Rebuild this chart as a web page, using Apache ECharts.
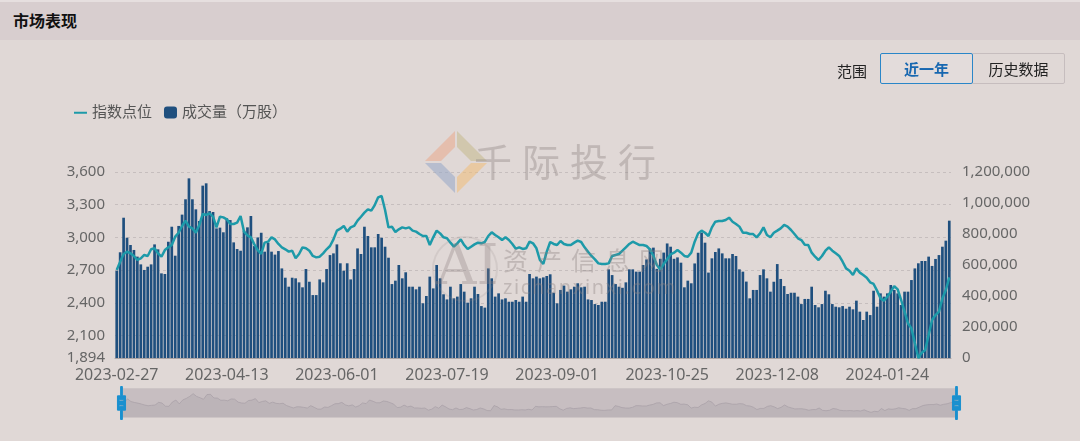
<!DOCTYPE html>
<html>
<head>
<meta charset="utf-8">
<script src="https://cdn.jsdelivr.net/npm/echarts@6/dist/echarts.min.js"></script>
<style>
  html,body{margin:0;padding:0;}
  body{width:1080px;height:441px;background:#e0d8d6;position:relative;overflow:hidden;font-family:"Noto Sans CJK SC","Noto Sans",sans-serif;}
  #hdr{position:absolute;left:0;top:0;width:1080px;height:40px;background:#d8cecf;border-top:2px solid #e6dfdf;box-sizing:border-box;}
  #ttl{position:absolute;left:13px;top:6px;font-size:16px;font-weight:bold;color:#111;}
  #chart{position:absolute;left:0;top:0;width:1080px;height:441px;}
  .lbl{position:absolute;font-size:15px;color:#222;}
  .btn{position:absolute;top:53px;height:31px;line-height:29px;text-align:center;font-size:15px;box-sizing:border-box;}
  #b1{left:880px;width:93px;border:1.5px solid #2a86c8;color:#1767b0;font-weight:bold;border-radius:2px;background:#e3dcdb;z-index:2;}
  #b2{left:972px;width:93px;border:1px solid #c6bdbe;color:#222;border-radius:0 2px 2px 0;}
  .wm{position:absolute;color:rgba(140,128,128,0.38);pointer-events:none;white-space:nowrap;z-index:5;}
</style>
</head>
<body>
<div id="hdr"><span id="ttl">市场表现</span></div>
<div id="chart"></div>
<span class="lbl" style="left:837px;top:60px;">范围</span>
<div class="btn" id="b1">近一年</div>
<div class="btn" id="b2">历史数据</div>
<svg class="wm" style="left:423px;top:129px;" width="68" height="68" viewBox="423 129 68 68">
  <polygon points="425,161 455,131 455,147 441,161" fill="rgba(233,170,140,0.55)"/>
  <polygon points="457,131 487,161 471,161 457,147" fill="rgba(196,186,140,0.55)"/>
  <polygon points="425,163 441,163 455,177 455,193" fill="rgba(150,168,200,0.55)"/>
  <polygon points="487,163 457,193 457,177 471,163" fill="rgba(240,190,120,0.55)"/>
</svg>
<div class="wm" style="left:474px;top:132px;font-size:38px;letter-spacing:10px;">千际投行</div>
<div class="wm" style="left:432px;top:236px;width:62px;height:62px;border:2px solid rgba(150,138,138,0.18);border-radius:50%;"></div>
<div class="wm" style="left:436px;top:232px;font-size:56px;font-family:'DejaVu Serif',serif;color:rgba(140,128,128,0.32);">AI</div>
<div class="wm" style="left:503px;top:241px;font-size:25px;letter-spacing:9px;">资产信息网</div>
<div class="wm" style="left:503px;top:273px;font-size:20px;letter-spacing:1.6px;font-family:'Noto Sans',sans-serif;">zichanxinxi.com</div>
<script>
var dates = [
'2023-02-27','2023-02-28',
'2023-03-01','2023-03-02','2023-03-03','2023-03-06','2023-03-07','2023-03-08','2023-03-09','2023-03-10','2023-03-13','2023-03-14','2023-03-15','2023-03-16','2023-03-17','2023-03-20','2023-03-21','2023-03-22','2023-03-23','2023-03-24','2023-03-27','2023-03-28','2023-03-29','2023-03-30','2023-03-31',
'2023-04-03','2023-04-04','2023-04-06','2023-04-07','2023-04-10','2023-04-11','2023-04-12','2023-04-13','2023-04-14','2023-04-17','2023-04-18','2023-04-19','2023-04-20','2023-04-21','2023-04-24','2023-04-25','2023-04-26','2023-04-27','2023-04-28',
'2023-05-04','2023-05-05','2023-05-08','2023-05-09','2023-05-10','2023-05-11','2023-05-12','2023-05-15','2023-05-16','2023-05-17','2023-05-18','2023-05-19','2023-05-22','2023-05-23','2023-05-24','2023-05-25','2023-05-26','2023-05-29','2023-05-30','2023-05-31',
'2023-06-01','2023-06-02','2023-06-05','2023-06-06','2023-06-07','2023-06-08','2023-06-09','2023-06-12','2023-06-13','2023-06-14','2023-06-15','2023-06-16','2023-06-19','2023-06-20','2023-06-21','2023-06-26','2023-06-27','2023-06-28','2023-06-29','2023-06-30',
'2023-07-03','2023-07-04','2023-07-05','2023-07-06','2023-07-07','2023-07-10','2023-07-11','2023-07-12','2023-07-13','2023-07-14','2023-07-17','2023-07-18','2023-07-19','2023-07-20','2023-07-21','2023-07-24','2023-07-25','2023-07-26','2023-07-27','2023-07-28','2023-07-31',
'2023-08-01','2023-08-02','2023-08-03','2023-08-04','2023-08-07','2023-08-08','2023-08-09','2023-08-10','2023-08-11','2023-08-14','2023-08-15','2023-08-16','2023-08-17','2023-08-18','2023-08-21','2023-08-22','2023-08-23','2023-08-24','2023-08-25','2023-08-28','2023-08-29','2023-08-30','2023-08-31',
'2023-09-01','2023-09-04','2023-09-05','2023-09-06','2023-09-07','2023-09-08','2023-09-11','2023-09-12','2023-09-13','2023-09-14','2023-09-15','2023-09-18','2023-09-19','2023-09-20','2023-09-21','2023-09-22','2023-09-25','2023-09-26','2023-09-27','2023-09-28',
'2023-10-09','2023-10-10','2023-10-11','2023-10-12','2023-10-13','2023-10-16','2023-10-17','2023-10-18','2023-10-19','2023-10-20','2023-10-23','2023-10-24','2023-10-25','2023-10-26','2023-10-27','2023-10-30','2023-10-31',
'2023-11-01','2023-11-02','2023-11-03','2023-11-06','2023-11-07','2023-11-08','2023-11-09','2023-11-10','2023-11-13','2023-11-14','2023-11-15','2023-11-16','2023-11-17','2023-11-20','2023-11-21','2023-11-22','2023-11-23','2023-11-24','2023-11-27','2023-11-28','2023-11-29','2023-11-30',
'2023-12-01','2023-12-04','2023-12-05','2023-12-06','2023-12-07','2023-12-08','2023-12-11','2023-12-12','2023-12-13','2023-12-14','2023-12-15','2023-12-18','2023-12-19','2023-12-20','2023-12-21','2023-12-22','2023-12-25','2023-12-26','2023-12-27','2023-12-28','2023-12-29',
'2024-01-02','2024-01-03','2024-01-04','2024-01-05','2024-01-08','2024-01-09','2024-01-10','2024-01-11','2024-01-12','2024-01-15','2024-01-16','2024-01-17','2024-01-18','2024-01-19','2024-01-22','2024-01-23','2024-01-24','2024-01-25','2024-01-26','2024-01-29','2024-01-30','2024-01-31',
'2024-02-01','2024-02-02','2024-02-05','2024-02-06','2024-02-07','2024-02-08','2024-02-19','2024-02-20','2024-02-21','2024-02-22','2024-02-23','2024-02-26','2024-02-27'
];

var volume = [
563000,682000,905000,776000,729000,697000,654000,604000,568000,589000,
604000,733000,701000,546000,542000,750000,847000,660000,852000,925000,
1024000,1159000,1024000,959000,884000,1112000,1127000,948000,942000,836000,
841000,811000,901000,890000,746000,703000,692000,821000,843000,916000,
722000,778000,808000,686000,744000,686000,667000,690000,578000,518000,
460000,518000,514000,488000,456000,574000,492000,406000,406000,507000,
488000,574000,664000,675000,733000,611000,563000,611000,507000,574000,
707000,671000,847000,787000,714000,714000,800000,776000,718000,647000,
477000,499000,600000,514000,553000,460000,460000,443000,460000,353000,
400000,525000,449000,600000,514000,411000,378000,460000,385000,396000,
477000,428000,357000,385000,460000,413000,335000,325000,578000,514000,
396000,417000,378000,385000,363000,363000,374000,363000,396000,363000,
542000,514000,525000,514000,520000,529000,540000,421000,353000,439000,
467000,428000,443000,460000,482000,456000,460000,378000,374000,348000,
342000,363000,363000,572000,535000,477000,460000,453000,488000,572000,
572000,557000,557000,600000,636000,707000,712000,575000,640000,680000,
739000,718000,640000,649000,615000,456000,499000,482000,610000,679000,
809000,744000,551000,643000,684000,707000,675000,643000,643000,671000,
658000,572000,557000,493000,385000,439000,439000,535000,572000,514000,
428000,492000,606000,510000,464000,413000,421000,421000,396000,348000,
381000,381000,460000,342000,327000,348000,434000,411000,348000,331000,
327000,335000,318000,331000,314000,370000,299000,245000,299000,277000,
434000,331000,417000,396000,417000,471000,439000,417000,342000,428000,
428000,503000,578000,611000,626000,626000,654000,594000,639000,664000,
718000,757000,886000
];

var indexPoints = [
2701,2777,2848,2869,2854,2830,2793,2808,2839,2830,
2891,2900,2854,2823,2884,2909,2930,3007,3043,3105,
3154,3099,3083,3043,3114,3215,3206,3221,3190,3092,
3190,3184,3166,3123,3123,3135,3196,3053,3019,3001,
2936,2884,2848,2952,2961,3001,2982,2940,2909,2891,
2870,2878,2808,2848,2909,2900,2878,2830,2817,2823,
2854,2891,2921,2982,3062,3080,3105,3053,3092,3105,
3154,3190,3227,3258,3245,3297,3368,3380,3251,3092,
3098,3050,3074,3092,3083,3092,3062,3053,3031,3013,
3013,2930,3001,3062,3037,3001,2992,2952,2915,2946,
2982,2930,2894,2915,2936,2952,2946,2958,3013,3047,
3022,3001,2976,3001,2976,2940,2897,2909,2894,2900,
2961,2946,2900,2793,2756,2869,2958,2940,2930,2967,
2940,2930,2930,2952,2970,2958,2909,2869,2830,2799,
2762,2756,2756,2762,2830,2839,2848,2878,2909,2940,
2961,2946,2930,2930,2921,2891,2830,2747,2707,2756,
2799,2845,2860,2884,2860,2830,2823,2860,2961,3037,
3062,3043,3013,3092,3144,3150,3150,3160,3181,3144,
3123,3099,3043,3043,3031,3031,3001,3037,3092,3022,
3001,3043,3062,3083,3114,3099,3068,3031,2992,2976,
2933,2930,2860,2823,2793,2830,2878,2909,2878,2854,
2830,2777,2716,2695,2655,2716,2677,2655,2631,2588,
2573,2512,2441,2420,2457,2502,2554,2524,2426,2319,
2212,2166,2029,1894,1943,1967,2105,2242,2288,2319,
2441,2518,2634
];

var leftAxisMin = 1894, leftAxisMax = 3600;
var rightAxisMin = 0, rightAxisMax = 1200000, rightAxisStep = 200000;
var seriesNames = ['指数点位', '成交量（万股）'];

var FONT = '"Noto Sans","Noto Sans CJK SC",sans-serif';
var LINE_ICON = 'path://M0,0H13V0.02H0Z M0,5.2H13V7.2H0Z M0,12H13V12.02H0Z';
var chart = echarts.init(document.getElementById('chart'), null, {renderer: 'canvas'});
chart.setOption({
  animation: false,
  backgroundColor: 'transparent',
  legend: {
    data: [{name: seriesNames[0], icon: LINE_ICON}, {name: seriesNames[1], icon: 'roundRect'}],
    left: 69, top: 100,
    itemWidth: 13, itemHeight: 12, itemGap: 12,
    textStyle: {fontSize: 15, color: '#555', fontFamily: FONT}
  },
  grid: {left: 115, right: 129, top: 172, bottom: 83, containLabel: false},
  xAxis: {
    type: 'category',
    data: dates,
    boundaryGap: true,
    axisLine: {lineStyle: {color: '#aaa3a3', width: 1}},
    axisTick: {show: false},
    axisLabel: {interval: 31, color: '#666', fontSize: 16, margin: 9, fontFamily: FONT},
    splitLine: {show: false}
  },
  yAxis: [
    {
      type: 'value', position: 'left', min: leftAxisMin, max: leftAxisMax,
      axisLine: {show: false}, axisTick: {show: false},
      axisLabel: {color: '#666', fontSize: 15, margin: 10, fontFamily: FONT},
      splitLine: {show: true, lineStyle: {type: [3, 3], color: '#c6bebe', width: 1}}
    },
    {
      type: 'value', position: 'right', min: rightAxisMin, max: rightAxisMax, interval: rightAxisStep,
      axisLine: {show: false}, axisTick: {show: false},
      axisLabel: {color: '#666', fontSize: 15, margin: 11, fontFamily: FONT},
      splitLine: {show: false}
    }
  ],
  dataZoom: [{
    type: 'slider', xAxisIndex: 0, start: 0, end: 100,
    left: 118, right: 125, top: 388, height: 30,
    showDetail: false, brushSelect: false, moveHandleSize: 0,
    borderColor: '#cdc5c6',
    backgroundColor: 'rgba(0,0,0,0)',
    fillerColor: 'rgba(165,155,165,0.42)',
    handleIcon: 'path://M8.2,13.6V3.9H6.3v9.7H3.1v14.9h3.3v9.7h1.8v-9.7h3.3V13.6H8.2z M9.7,24.4H4.8v-1.4h4.9V24.4z M9.7,19.1H4.8v-1.4h4.9V19.1z',
    handleSize: '110%',
    handleStyle: {color: '#1a90cf', borderColor: '#1a90cf'},
    dataBackground: {lineStyle: {color: '#a39ca2', width: 0.8, opacity: 0.8}, areaStyle: {color: '#a9a2a8', opacity: 0.35}},
    selectedDataBackground: {lineStyle: {color: '#a39ca2', width: 0.8, opacity: 0.8}, areaStyle: {color: '#a9a2a8', opacity: 0.35}}
  }],
  series: [
    {
      name: seriesNames[1], type: 'bar', yAxisIndex: 1, data: volume,
      barCategoryGap: '22%',
      itemStyle: {color: '#1f4f7e'}
    },
    {
      name: seriesNames[0], type: 'line', yAxisIndex: 0, data: indexPoints,
      symbol: 'none', smooth: false,
      lineStyle: {color: '#1d9aa9', width: 2.5},
      itemStyle: {color: '#1d9aa9'}
    }
  ]
});
</script>
</body>
</html>
